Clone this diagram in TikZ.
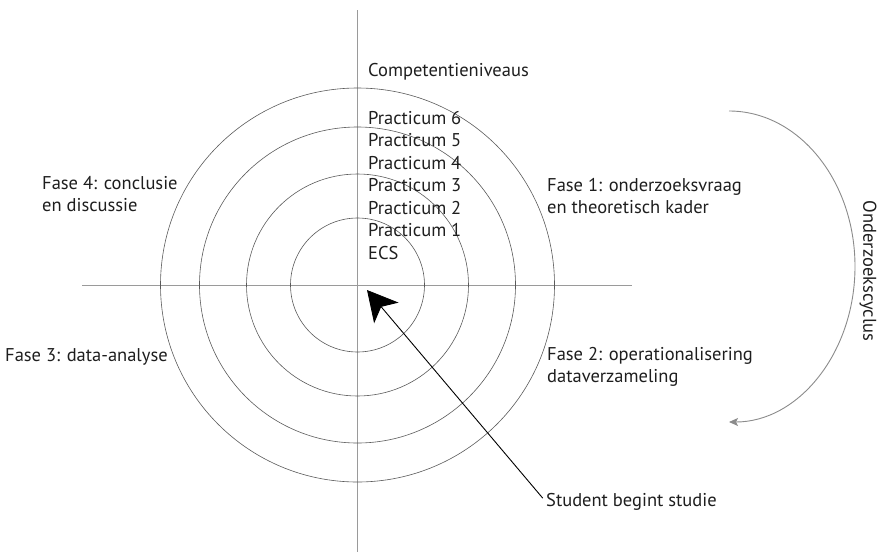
\documentclass[tikz,border=0pt]{standalone}
\usepackage{fontspec}
\setmainfont{PT Sans}
\usetikzlibrary{arrows.meta}
\definecolor{axisgray}{HTML}{9A9A9A}
\definecolor{ringgray}{HTML}{5A5A5A}
\definecolor{txt}{HTML}{1E1E1E}
\begin{document}
\begin{tikzpicture}[x=1pt,y=-1pt,
  axis/.style={draw=axisgray,line width=1pt},
  ring/.style={draw=ringgray,line width=0.6pt},
  lbl/.style={anchor=west,inner sep=0pt,text=txt,font=\fontsize{18.5}{22.5}\selectfont,align=left},
  pointer/.style={draw=black,line width=0.9pt,shorten <=5pt,-{Stealth[length=30pt,width=32pt,inset=8pt]}},
  cycle/.style={draw=axisgray!90!black,line width=0.9pt,-{Stealth[length=9pt,width=8pt,inset=2pt]}}]
\useasboundingbox (0,0) rectangle (879,555);
\coordinate (o) at (357.5,285);
% axes
\coordinate (vtop) at (357.5,10);
\coordinate (vbot) at (357.5,552);
\coordinate (hleft) at (82,285);
\coordinate (hright) at (632,285);
\draw[axis] (vtop) -- (vbot);
\draw[axis] (hleft) -- (hright);
% competence rings
\foreach \r in {67,111,158,197} \draw[ring] (o) circle[radius=\r];
% level labels
\node[lbl] (comp) at (368,72) {Competentieniveaus};
\node[lbl] (p6) at (368,118) {Practicum 6};
\node[lbl] (p5) at (368,140.5) {Practicum 5};
\node[lbl] (p4) at (368,163) {Practicum 4};
\node[lbl] (p3) at (368,185.5) {Practicum 3};
\node[lbl] (p2) at (368,208) {Practicum 2};
\node[lbl] (p1) at (368,230.5) {Practicum 1};
\node[lbl] (ecs) at (368,253) {ECS};
% phases
\node[lbl] (f4) at (42,194) {Fase 4: conclusie\\en discussie};
\node[lbl] (f1) at (547,196) {Fase 1: onderzoeksvraag\\en theoretisch kader};
\node[lbl] (f3) at (5,357) {Fase 3: data-analyse};
\node[lbl] (f2) at (547,367) {Fase 2: operationalisering\\dataverzameling};
% start pointer
\node[lbl] (student) at (546,502) {Student begint studie};
\coordinate (start) at (367,290);
\draw[pointer] (student.west) -- (start);
% research cycle
\coordinate (cyc) at (729,111);
\draw[cycle] (cyc) arc[start angle=-90,end angle=90,x radius=126,y radius=155.5];
\node[lbl,anchor=center,rotate=-90] (cyclbl) at (868,271) {Onderzoekscyclus};
\end{tikzpicture}
\end{document}
